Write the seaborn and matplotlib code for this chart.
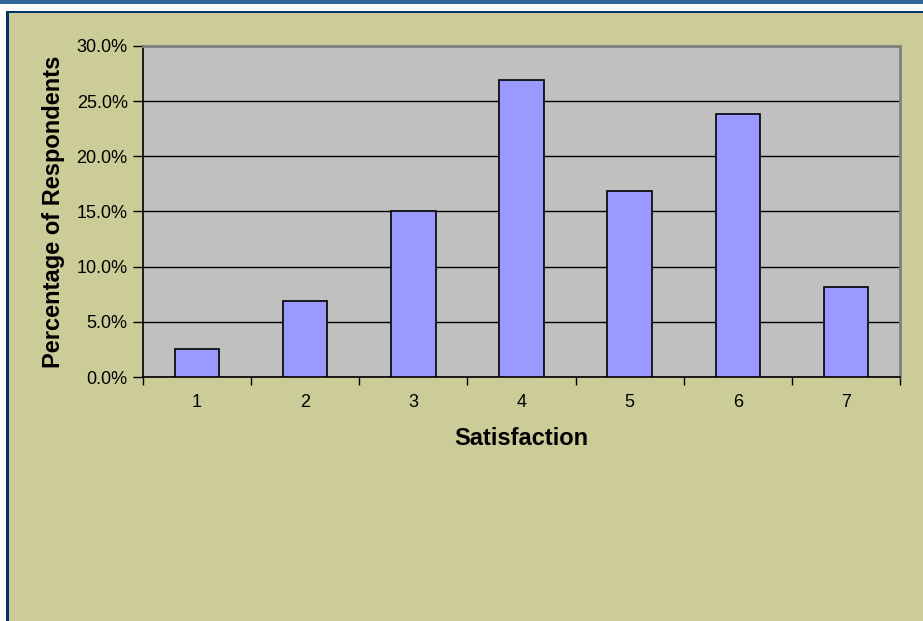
import matplotlib
matplotlib.use("Agg")
import matplotlib.pyplot as plt
import matplotlib.ticker as mticker
from matplotlib.patches import Rectangle
import pandas as pd
import seaborn as sns

# ── Data ──────────────────────────────────────────────────────────────────────
satisfaction = ["1", "2", "3", "4", "5", "6", "7"]
pct_respondents = [0.025, 0.069, 0.150, 0.269, 0.169, 0.238, 0.082]
y_ticks = [0.0, 0.05, 0.10, 0.15, 0.20, 0.25, 0.30]

df = pd.DataFrame({"Satisfaction": satisfaction, "pct": pct_respondents})

# ── Style ─────────────────────────────────────────────────────────────────────
sns.set_style("white")
plt.rcParams["font.family"] = ["Liberation Sans", "DejaVu Sans"]
plt.rcParams["text.color"] = "black"
plt.rcParams["axes.labelcolor"] = "black"
plt.rcParams["xtick.color"] = "black"
plt.rcParams["ytick.color"] = "black"

BG = "#CCCC99"
PLOT_BG = "#C0C0C0"
BAR = "#9999FF"

fig = plt.figure(figsize=(9.23, 6.21), dpi=100, facecolor=BG)
W, H = 923, 621

# frame decorations (top stripe, white gap, navy border)
fig.patches.append(Rectangle((0, 1 - 4.5 / H), 1, 4.5 / H, transform=fig.transFigure,
                             facecolor="#336699", edgecolor="none", zorder=0))
fig.patches.append(Rectangle((0, 1 - 11 / H), 1, 6.5 / H, transform=fig.transFigure,
                             facecolor="white", edgecolor="none", zorder=0))
fig.patches.append(Rectangle((6 / W, 1 - 13 / H), 1, 2.2 / H, transform=fig.transFigure,
                             facecolor="#003366", edgecolor="none", zorder=0))
fig.patches.append(Rectangle((6 / W, 0), 3 / W, 1 - 11 / H, transform=fig.transFigure,
                             facecolor="#003366", edgecolor="none", zorder=0))
fig.patches.append(Rectangle((0, 0), 6 / W, 1 - 11 / H, transform=fig.transFigure,
                             facecolor="white", edgecolor="none", zorder=0))

ax = fig.add_axes([143 / W, 1 - 377 / H, (900 - 143) / W, (377 - 46) / H])
ax.set_facecolor(PLOT_BG)

sns.barplot(data=df, x="Satisfaction", y="pct", color=BAR, saturation=1,
            width=0.41, edgecolor="black", linewidth=1.2, ax=ax, zorder=3)

ax.set_ylim(0, 0.30)
ax.set_xlim(-0.5, len(satisfaction) - 0.5)
ax.set_yticks(y_ticks)
ax.yaxis.set_major_formatter(mticker.PercentFormatter(xmax=1, decimals=1))
ax.grid(axis="y", color="black", linewidth=1.0, zorder=1)
ax.set_axisbelow(True)

# ticks: labels at category centres, tick marks at boundaries
ax.tick_params(axis="x", which="major", length=0, pad=12, labelsize=13)
ax.xaxis.set_minor_locator(mticker.FixedLocator([i + 0.5 for i in range(-1, len(satisfaction))]))
ax.tick_params(axis="x", which="minor", length=6, width=1, color="black", direction="out", bottom=True)
ax.tick_params(axis="y", length=7, width=1, color="black", direction="out", left=True, labelsize=13, pad=4)

for side in ["left", "bottom"]:
    ax.spines[side].set_color("black")
    ax.spines[side].set_linewidth(1.2)
for side in ["top", "right"]:
    ax.spines[side].set_visible(True)
    ax.spines[side].set_color("#808080")
    ax.spines[side].set_linewidth(2)

ax.set_xlabel("Satisfaction", fontsize=17, fontweight="bold", labelpad=12)
ax.set_ylabel("Percentage of Respondents", fontsize=17, fontweight="bold", labelpad=8)

plt.savefig("out.png", dpi=100, facecolor=BG)
